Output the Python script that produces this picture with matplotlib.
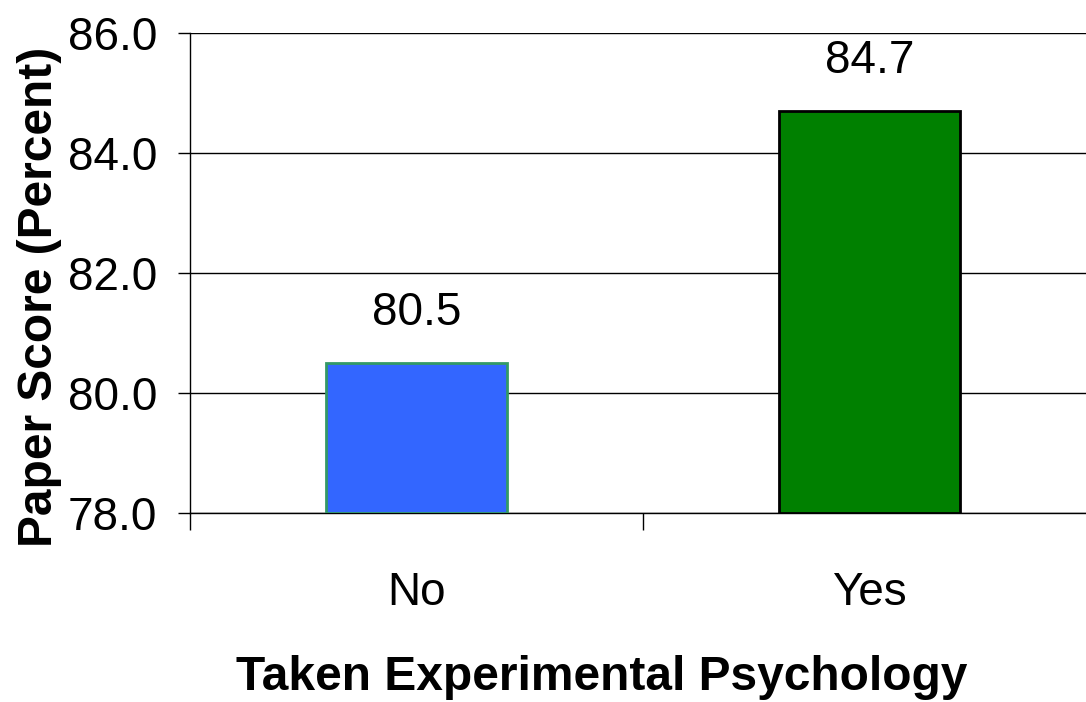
import matplotlib
matplotlib.use('Agg')
import matplotlib.pyplot as plt
from matplotlib.transforms import blended_transform_factory

categories = ['No', 'Yes']
scores = [80.5, 84.7]
bar_colors = ['#3366ff', '#008000']
edge_colors = ['#339966', '#000000']
y_ticks = [78.0, 80.0, 82.0, 84.0, 86.0]

W, H = 1086, 702
plt.rcParams['font.family'] = ['Liberation Sans', 'DejaVu Sans']

fig = plt.figure(figsize=(W / 100, H / 100), dpi=100)
# axes runs a little past the right edge, as in the original
ax = fig.add_axes([190 / W, 1 - 513 / H, 906 / W, 480 / H])

x = range(len(categories))
ax.bar(x, [s - 78 for s in scores], bottom=78, width=0.40,
       color=bar_colors, edgecolor=edge_colors, linewidth=2, zorder=3)
for i, s in enumerate(scores):
    ax.text(i, s + 0.63, f'{s:.1f}', ha='center', va='baseline', fontsize=33)

ax.set_xlim(-0.5, 1.5)
ax.set_ylim(78, 86)
ax.set_yticks(y_ticks)
ax.set_yticklabels([f'{t:.1f}' for t in y_ticks], fontsize=33)
# category boundary ticks
ax.set_xticks([-0.5, 0.5, 1.5])
ax.set_xticklabels(['', '', ''])
ax.tick_params(axis='y', length=9, width=1, pad=14.5)
ax.tick_params(axis='x', length=12, width=1)

cat_tr = blended_transform_factory(ax.transData, fig.transFigure)
for i, c in enumerate(categories):
    ax.text(i, 1 - 605 / H, c, transform=cat_tr,
            ha='center', va='baseline', fontsize=33)

ax.grid(axis='y', color='black', linewidth=1, zorder=0)
for sp in ('top', 'right'):
    ax.spines[sp].set_visible(False)
ax.spines['left'].set_linewidth(1)
ax.spines['bottom'].set_linewidth(1)

fig.text(602 / W, 1 - 690 / H, 'Taken Experimental Psychology', ha='center',
         va='baseline', fontsize=34.5, fontweight='bold')
fig.text(40 / W, 1 - 297 / H, 'Paper Score (Percent)', rotation=90,
         ha='center', va='center', fontsize=34.5, fontweight='bold')

fig.savefig('out.png', dpi=100)
